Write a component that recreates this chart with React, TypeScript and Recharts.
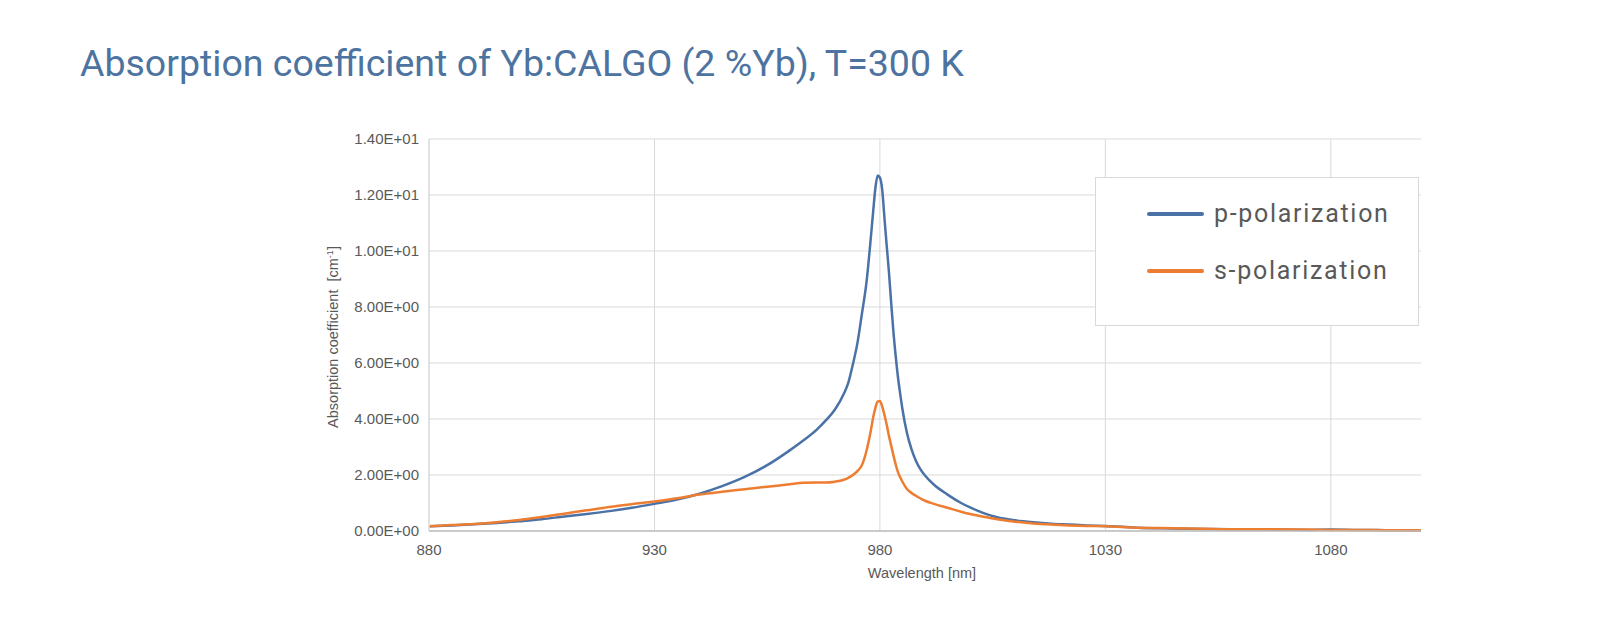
import React from "react";
import { LineChart, Line, XAxis, YAxis, CartesianGrid, Legend } from "recharts";

const wavelengths = [
  880, 885, 890, 895, 900, 905, 910, 915, 920, 925, 930, 935, 940, 945, 950, 955, 960, 963, 966, 968, 970, 972, 973,
  974, 975, 976, 977, 978, 978.5, 979, 979.5, 980, 980.5, 981, 981.5, 982, 982.5, 983, 983.5, 984, 984.5, 985, 986, 987,
  988, 989, 990, 992, 995, 998, 1000, 1003, 1006, 1010, 1014, 1018, 1022, 1026, 1030, 1037, 1045, 1052, 1060, 1068,
  1075, 1080, 1085, 1092, 1100,
];

const pPolarization = [
  0.17, 0.2, 0.24, 0.29, 0.35, 0.42, 0.52, 0.61, 0.71, 0.83, 0.97, 1.12, 1.33, 1.6, 1.93, 2.35, 2.88, 3.23, 3.62, 3.95,
  4.33, 4.9, 5.3, 5.95, 6.7, 7.75, 8.85, 10.5, 11.4, 12.25, 12.7, 12.62, 12.2, 11.2, 10.2, 9.25, 8.15, 7.1, 6.25,
  5.5, 4.9, 4.35, 3.5, 2.92, 2.5, 2.2, 1.98, 1.65, 1.3, 1.0, 0.84, 0.64, 0.49, 0.38, 0.31, 0.26, 0.23, 0.2, 0.18, 0.12,
  0.09, 0.07, 0.06, 0.05, 0.04, 0.05, 0.04, 0.03, 0.02,
];

const sPolarization = [
  0.17, 0.21, 0.25, 0.31, 0.39, 0.5, 0.62, 0.74, 0.86, 0.96, 1.05, 1.17, 1.3, 1.4, 1.49, 1.58, 1.67, 1.72, 1.73, 1.73,
  1.76, 1.83, 1.9, 2.0, 2.14, 2.35, 2.85, 3.6, 4.05, 4.4, 4.62, 4.64, 4.45, 4.15, 3.8, 3.4, 3.05, 2.7, 2.38, 2.1, 1.92,
  1.76, 1.5, 1.36, 1.26, 1.16, 1.08, 0.97, 0.83, 0.69, 0.61, 0.51, 0.42, 0.33, 0.27, 0.23, 0.2, 0.18, 0.17, 0.12, 0.1,
  0.08, 0.06, 0.06, 0.05, 0.04, 0.04, 0.03, 0.03,
];

const xTicks = [880, 930, 980, 1030, 1080];
const yTicks = [0, 2, 4, 6, 8, 10, 12, 14];
const yTickLabels = ["0.00E+00", "2.00E+00", "4.00E+00", "6.00E+00", "8.00E+00", "1.00E+01", "1.20E+01", "1.40E+01"];
const xDomain = [880, 1100];

const seriesNames = ["p-polarization", "s-polarization"];
const seriesColors = ["#4a72a6", "#ed7d31"];

const data = wavelengths.map((w, i) => ({ w, p: pPolarization[i], s: sPolarization[i] }));

const FONT = "'Liberation Sans', Arial, sans-serif";

const LegendBox = () => (
  <div
    style={{
      width: 324,
      height: 149,
      boxSizing: "border-box",
      border: "1.5px solid #d9d9d9",
      background: "#fff",
      position: "relative",
    }}
  >
    {seriesNames.map((n, i) => (
      <div
        key={n}
        style={{
          position: "absolute",
          left: 51,
          top: 21 + i * 57,
          display: "flex",
          alignItems: "center",
          whiteSpace: "nowrap",
        }}
      >
        <div style={{ width: 57, height: 4, borderRadius: 2, background: seriesColors[i], marginRight: 10 }} />
        <span style={{ fontFamily: "Roboto, sans-serif", fontSize: 25, color: "#595959", letterSpacing: 1.7 }}>{n}</span>
      </div>
    ))}
  </div>
);

export default function App() {
  return (
    <div style={{ position: "absolute", left: 0, top: 0, width: 1600, height: 638, background: "#fff" }}>
      <div
        style={{
          position: "absolute",
          left: 80,
          top: 40,
          fontFamily: "Roboto, sans-serif",
          fontSize: 37.5,
          color: "#4d73a0",
          whiteSpace: "nowrap",
          lineHeight: "46px",
        }}
      >
        Absorption coefficient of Yb:CALGO (2 %Yb), T=300 K
      </div>
      <LineChart
        width={1600}
        height={638}
        data={data}
        margin={{ top: 139, right: 179, bottom: 0, left: 349 }}
      >
        <CartesianGrid
          stroke="#d9d9d9"
          strokeWidth={1}
          verticalCoordinatesGenerator={({ offset }: any) =>
            xTicks
              .filter((t) => t > xDomain[0])
              .map((t) => offset.left + ((t - xDomain[0]) / (xDomain[1] - xDomain[0])) * offset.width)
          }
        />
        <XAxis
          dataKey="w"
          type="number"
          domain={xDomain}
          ticks={xTicks}
          allowDataOverflow
          height={107}
          tickSize={0}
          tickMargin={13}
          axisLine={{ stroke: "#bfbfbf", strokeWidth: 1.5 }}
          tick={{ fill: "#595959", fontSize: 15, fontFamily: FONT }}
        />
        <YAxis
          type="number"
          domain={[0, 14]}
          ticks={yTicks}
          width={80}
          tickSize={0}
          tickMargin={10}
          axisLine={{ stroke: "#d9d9d9", strokeWidth: 1.5 }}
          tickFormatter={(v: number) => yTickLabels[yTicks.indexOf(v)]}
          tick={{ fill: "#595959", fontSize: 15, fontFamily: FONT }}
        />
        <Legend
          layout="vertical"
          align="center"
          verticalAlign="middle"
          wrapperStyle={{ position: "absolute", left: 1095, top: 177, width: 324, height: 149 }}
          content={() => <LegendBox />}
        />
        <Line
          type="monotone"
          dataKey="p"
          name={seriesNames[0]}
          stroke={seriesColors[0]}
          strokeWidth={2.5}
          dot={false}
          isAnimationActive={false}
        />
        <Line
          type="monotone"
          dataKey="s"
          name={seriesNames[1]}
          stroke={seriesColors[1]}
          strokeWidth={2.5}
          dot={false}
          isAnimationActive={false}
        />
      </LineChart>
      <div
        style={{
          position: "absolute",
          left: 922,
          top: 565,
          transform: "translateX(-50%)",
          fontFamily: FONT,
          fontSize: 14.5,
          color: "#595959",
          whiteSpace: "nowrap",
        }}
      >
        Wavelength [nm]
      </div>
      <div
        style={{
          position: "absolute",
          left: 333,
          top: 337,
          transform: "translate(-50%, -50%) rotate(-90deg)",
          fontFamily: FONT,
          fontSize: 14.5,
          color: "#595959",
          whiteSpace: "nowrap",
        }}
      >
        Absorption coefficient&nbsp;&nbsp;[cm<sup style={{ fontSize: 9 }}>-1</sup>]
      </div>
    </div>
  );
}
